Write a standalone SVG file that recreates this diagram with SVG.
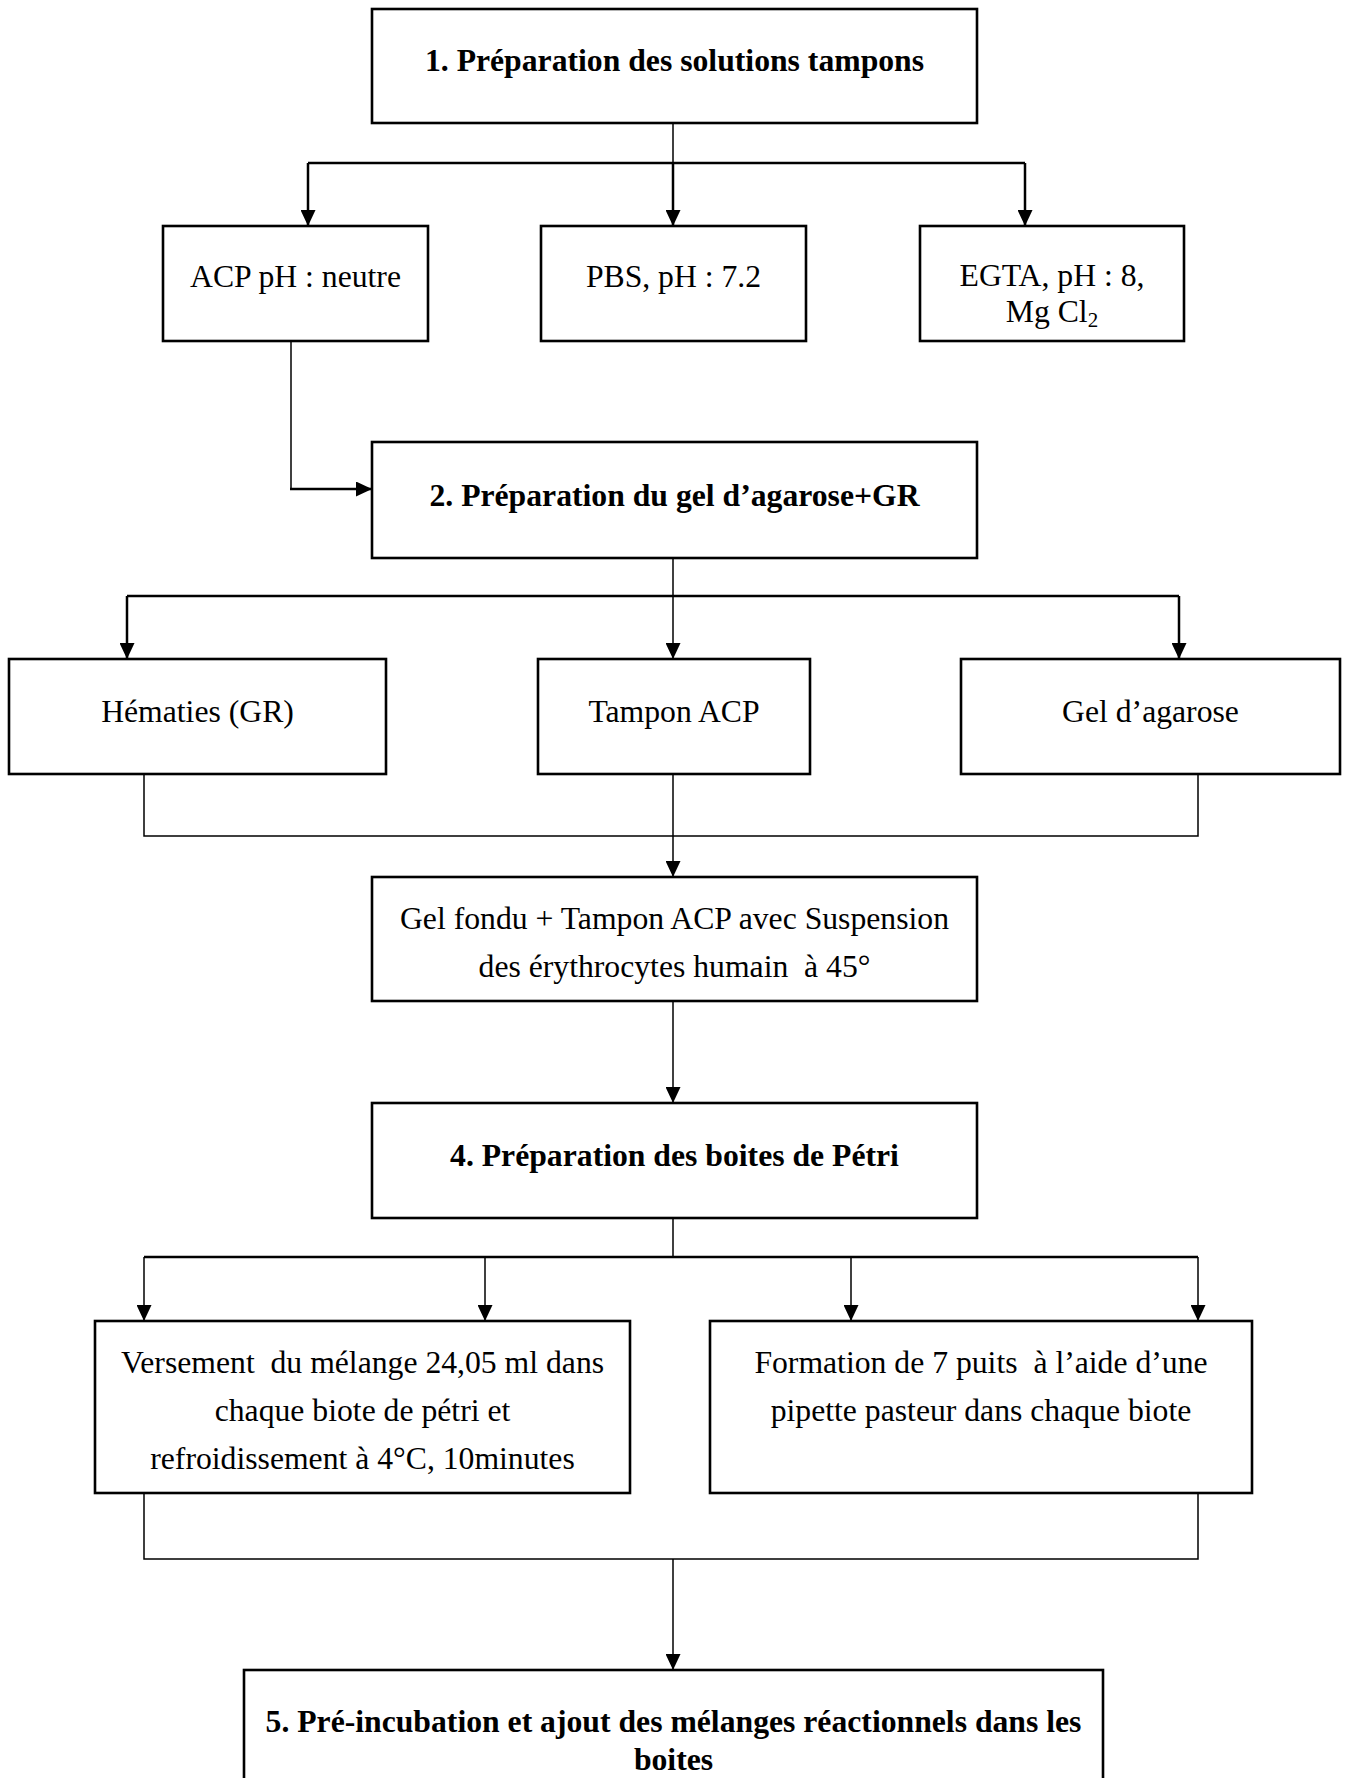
<svg xmlns="http://www.w3.org/2000/svg" width="1349" height="1778" viewBox="0 0 1349 1778">
  <style>
    .box { fill: #ffffff; stroke: #000000; stroke-width: 2.6; }
    .t { font-family: "Liberation Serif", "Times New Roman", serif; font-size: 31.7px; fill: #000000; text-anchor: middle; white-space: pre; }
    .b { font-weight: bold; }
    .trunk { fill: none; stroke: #000000; stroke-width: 1.5; }
    .branch { fill: none; stroke: #000000; stroke-width: 2.5; }
    .arr { marker-end: url(#head); }
  </style>
  <defs>
    <marker id="head" markerUnits="userSpaceOnUse" markerWidth="16" markerHeight="15" viewBox="0 0 16 15" refX="16" refY="7.5" orient="auto">
      <path d="M0,0 L16,7.5 L0,15 Z" fill="#000000"/>
    </marker>
  </defs>

  <rect width="1349" height="1778" fill="#ffffff"/>

  <!-- connectors -->
  <g id="connectors">
    <!-- step 1 to the three buffers -->
    <path class="trunk" d="M673,123 V163"/>
    <path class="branch" d="M308,163 H1025"/>
    <path class="branch arr" d="M308,163 V226"/>
    <path class="branch arr" d="M673,163 V226"/>
    <path class="branch arr" d="M1025,163 V226"/>
    <!-- ACP buffer to step 2 -->
    <path class="trunk" d="M291,341 V489"/>
    <path class="branch arr" d="M290,489 H372"/>
    <!-- step 2 to its three ingredients -->
    <path class="trunk" d="M673,558 V596"/>
    <path class="branch" d="M127,596 H1179"/>
    <path class="branch arr" d="M127,596 V659"/>
    <path class="trunk arr" d="M673,596 V659"/>
    <path class="branch arr" d="M1179,596 V659"/>
    <!-- ingredients merge into the mixture -->
    <path class="trunk" d="M144,774 V836 H1198 V774"/>
    <path class="trunk arr" d="M673,774 V877"/>
    <!-- mixture to step 4 -->
    <path class="trunk arr" d="M673,1001 V1103"/>
    <!-- step 4 to the two operations -->
    <path class="trunk" d="M673,1218 V1257"/>
    <path class="branch" d="M144,1257 H1198"/>
    <path class="trunk arr" d="M144,1257 V1321"/>
    <path class="trunk arr" d="M485,1257 V1321"/>
    <path class="trunk arr" d="M851,1257 V1321"/>
    <path class="trunk arr" d="M1198,1257 V1321"/>
    <!-- operations merge into step 5 -->
    <path class="trunk" d="M144,1493 V1559 H1198 V1493"/>
    <path class="trunk arr" d="M673,1559 V1670"/>
  </g>

  <g id="step1">
    <rect class="box" x="372" y="9" width="605" height="114"/>
    <text class="t b" x="674.5" y="71">1. Préparation des solutions tampons</text>
  </g>

  <g id="acp">
    <rect class="box" x="163" y="226" width="265" height="115"/>
    <text class="t" x="295.5" y="287">ACP pH : neutre</text>
  </g>

  <g id="pbs">
    <rect class="box" x="541" y="226" width="265" height="115"/>
    <text class="t" x="673.5" y="287">PBS, pH : 7.2</text>
  </g>

  <g id="egta">
    <rect class="box" x="920" y="226" width="264" height="115"/>
    <text class="t" x="1052" y="286">EGTA, pH : 8,</text>
    <text class="t" x="1052" y="322">Mg Cl<tspan font-size="21px" dy="5">2</tspan></text>
  </g>

  <g id="step2">
    <rect class="box" x="372" y="442" width="605" height="116"/>
    <text class="t b" x="674.5" y="506">2. Préparation du gel d’agarose+GR</text>
  </g>

  <g id="hematies">
    <rect class="box" x="9" y="659" width="377" height="115"/>
    <text class="t" x="197.5" y="722">Hématies (GR)</text>
  </g>

  <g id="tampon">
    <rect class="box" x="538" y="659" width="272" height="115"/>
    <text class="t" x="674" y="722">Tampon ACP</text>
  </g>

  <g id="gel">
    <rect class="box" x="961" y="659" width="379" height="115"/>
    <text class="t" x="1150.5" y="722">Gel d’agarose</text>
  </g>

  <g id="mixture">
    <rect class="box" x="372" y="877" width="605" height="124"/>
    <text class="t" x="674.5" y="929">Gel fondu + Tampon ACP avec Suspension</text>
    <text class="t" x="674.5" y="977">des érythrocytes humain  à 45°</text>
  </g>

  <g id="step4">
    <rect class="box" x="372" y="1103" width="605" height="115"/>
    <text class="t b" x="674.5" y="1166">4. Préparation des boites de Pétri</text>
  </g>

  <g id="pouring">
    <rect class="box" x="95" y="1321" width="535" height="172"/>
    <text class="t" x="362.5" y="1373">Versement  du mélange 24,05 ml dans</text>
    <text class="t" x="362.5" y="1421">chaque biote de pétri et</text>
    <text class="t" x="362.5" y="1469">refroidissement à 4°C, 10minutes</text>
  </g>

  <g id="wells">
    <rect class="box" x="710" y="1321" width="542" height="172"/>
    <text class="t" x="981" y="1373">Formation de 7 puits  à l’aide d’une</text>
    <text class="t" x="981" y="1421">pipette pasteur dans chaque biote</text>
  </g>

  <g id="step5">
    <rect class="box" x="244" y="1670" width="859" height="130"/>
    <text class="t b" x="673.5" y="1732">5. Pré-incubation et ajout des mélanges réactionnels dans les</text>
    <text class="t b" x="673.5" y="1770">boites</text>
  </g>
</svg>
